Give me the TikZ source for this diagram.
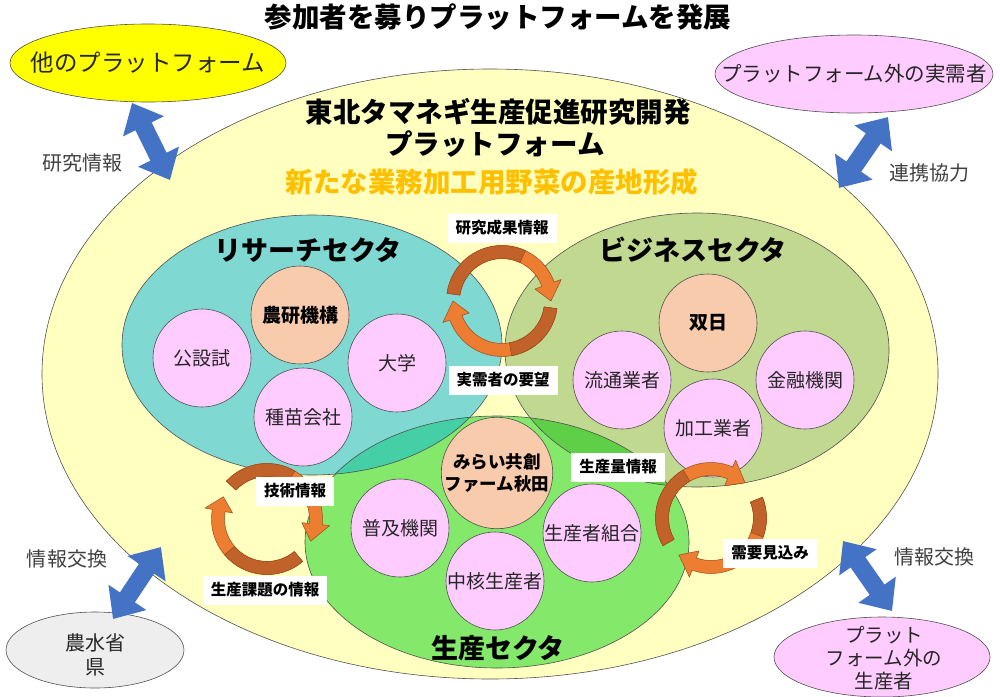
\documentclass[tikz,border=0pt]{standalone}
\usepackage{fontspec}
\setmainfont{Noto Sans CJK JP}
\usetikzlibrary{shapes.geometric,arrows.meta}
\definecolor{platY}{HTML}{FFFFC0}
\definecolor{resC}{HTML}{80D8D2}
\definecolor{busC}{HTML}{C0D890}
\definecolor{proC}{HTML}{84E86A}
\definecolor{ovRP}{HTML}{44CFA6}
\definecolor{ovBP}{HTML}{5FCF48}
\definecolor{pinkC}{HTML}{FFCCFF}
\definecolor{peachC}{HTML}{F8CBAD}
\definecolor{yelC}{HTML}{FFFF00}
\definecolor{grayC}{HTML}{EEEEEE}
\definecolor{orTxt}{HTML}{FFC000}
\definecolor{blueC}{HTML}{4472C4}
\definecolor{orL}{HTML}{ED7D31}
\definecolor{orD}{HTML}{C0622A}
\definecolor{orLine}{HTML}{9E4A1A}
\definecolor{edgeC}{HTML}{505050}
\definecolor{txtC}{HTML}{262626}
\definecolor{lblC}{HTML}{404040}

% circular arrow: #1 centre, #2 start angle, #3 end of dark part, #4 head base, #5 tip
\newcommand{\cycarrow}[5]{%
  \begin{scope}[shift={(#1)}]
    \filldraw[fill=orL, draw=orLine, line width=0.5pt, line join=round]
      (#2:55.5) arc[start angle=#2, end angle=#4, radius=55.5]
      -- (#4:63) -- (#5:49) -- (#4:35) -- (#4:42.5)
      arc[start angle=#4, end angle=#2, radius=42.5] -- cycle;
    \filldraw[fill=orD, draw=orLine, line width=0.5pt, line join=round]
      (#2:55.5) arc[start angle=#2, end angle=#3, radius=55.5]
      -- (#3:42.5) arc[start angle=#3, end angle=#2, radius=42.5] -- cycle;
  \end{scope}}

\begin{document}
\begin{tikzpicture}[x=1pt,y=-1pt,
  every node/.style={inner sep=0pt},
  ell/.style={ellipse, draw=edgeC, line width=0.6pt},
  secfill/.style={ellipse, inner sep=0pt},
  outl/.style={draw=edgeC, line width=0.6pt},
  pcirc/.style={circle, draw=edgeC, line width=0.6pt, fill=pinkC, minimum size=98pt,
                text=txtC, align=center, font=\fontsize{19}{22}\selectfont},
  kcirc/.style={pcirc, fill=peachC, text=black, font=\fontsize{19}{22}\selectfont\bfseries},
  sectitle/.style={font=\fontsize{27}{30}\selectfont\bfseries},
  headtxt/.style={font=\fontsize{27.5}{30}\selectfont\bfseries},
  tagbox/.style={fill=white, minimum height=29pt, inner xsep=8pt,
                 font=\fontsize{15.5}{18}\selectfont\bfseries},
  outtxt/.style={text=lblC, font=\fontsize{20}{22}\selectfont},
  parttxt/.style={text=txtC, align=center},
  bluearr/.style={draw=blueC, line width=18pt,
     {Triangle[length=26pt,width=44pt]}-{Triangle[length=26pt,width=44pt]}}
]
\useasboundingbox (0,0) rectangle (1000,696);

% ---- title
\node[headtxt] (title) at (498,17) {参加者を募りプラットフォームを発展};

% ---- platform ellipse
\node[ell, fill=platY, minimum width=896pt, minimum height=610pt] (plat) at (490,374) {};

% ---- sector ellipses (fills)
\node[secfill, fill=resC, minimum width=380pt, minimum height=260pt] (res) at (312,345) {};
\node[secfill, fill=busC, minimum width=384pt, minimum height=274pt] (bus) at (697,350) {};
\node[secfill, fill=proC, minimum width=384pt, minimum height=252pt] (pro) at (497,542) {};
\begin{scope}
  \clip (312,345) ellipse[x radius=190, y radius=130];
  \fill[ovRP] (497,542) ellipse[x radius=192, y radius=126];
\end{scope}
\begin{scope}
  \clip (697,350) ellipse[x radius=192, y radius=137];
  \fill[ovBP] (497,542) ellipse[x radius=192, y radius=126];
\end{scope}
\draw[outl] (res.center) ellipse[x radius=190, y radius=130];
\draw[outl] (bus.center) ellipse[x radius=192, y radius=137];
\draw[outl] (pro.center) ellipse[x radius=192, y radius=126];

% ---- headings
\node[headtxt] (h1) at (498,112) {東北タマネギ生産促進研究開発};
\node[headtxt] (h2) at (495,144) {プラットフォーム};
\node[headtxt, text=orTxt] (h3) at (492,182) {新たな業務加工用野菜の産地形成};

\node[sectitle] (rest) at (308,250) {リサーチセクタ};
\node[sectitle] (bust) at (693,250) {ビジネスセクタ};
\node[sectitle] (prot) at (498,648) {生産セクタ};

% ---- member circles
\node[kcirc] (nkk) at (300,315) {農研機構};
\node[pcirc] (kss) at (202,358) {公設試};
\node[pcirc] (dgk) at (397,363) {大学};
\node[pcirc] (sbk) at (303,417) {種苗会社};

\node[kcirc] (snj) at (708,323) {双日};
\node[pcirc] (rtg) at (622,380) {流通業者};
\node[pcirc] (kyk) at (805,380) {金融機関};
\node[pcirc] (kkg) at (713,428) {加工業者};

\node[kcirc, font=\fontsize{17.5}{22}\selectfont\bfseries] (mrk) at (497,473) {みらい共創\\ファーム秋田};
\node[pcirc] (fkk) at (400,528) {普及機関};
\node[pcirc] (ssk) at (592,533) {生産者組合};
\node[pcirc] (cks) at (495,581) {中核生産者};

% ---- circular arrows
\coordinate (c1) at (502,301);
\coordinate (c2) at (267,519);
\coordinate (c3) at (711,518);
\cycarrow{c1}{-172}{-65}{-20}{0}
\cycarrow{c1}{8}{80}{160}{180}
\cycarrow{c2}{-137}{-60}{6}{27}
\cycarrow{c2}{50}{140}{190}{207}
\cycarrow{c3}{150}{240}{293}{314}
\cycarrow{c3}{-22}{20}{110}{131}

% ---- flow labels
\node[tagbox] (t1) at (502,228) {研究成果情報};
\node[tagbox] (t2) at (503,380) {実需者の要望};
\node[tagbox] (t3) at (295,491) {技術情報};
\node[tagbox] (t4) at (265,590) {生産課題の情報};
\node[tagbox] (t5) at (618,467) {生産量情報};
\node[tagbox] (t6) at (770,553) {需要見込み};

% ---- outside partners
\node[ell, fill=yelC, minimum width=276pt, minimum height=78pt] (oth) at (148,63) {};
\node[parttxt, font=\fontsize{23.5}{26}\selectfont] (othT) at (oth.center) {他のプラットフォーム};
\node[ell, fill=pinkC, minimum width=278pt, minimum height=78pt] (jju) at (854,74) {};
\node[parttxt, font=\fontsize{20.5}{24}\selectfont] (jjuT) at (jju.center) {プラットフォーム外の実需者};
\node[ell, fill=grayC, minimum width=178pt, minimum height=76pt] (maff) at (95,650) {};
\node[parttxt, font=\fontsize{20}{24}\selectfont] (maffT) at (95,655) {農水省\\県};
\node[ell, fill=pinkC, minimum width=216pt, minimum height=80pt] (osp) at (882,657) {};
\node[parttxt, font=\fontsize{19.5}{23}\selectfont] (ospT) at (884,658) {プラット\\フォーム外の\\生産者};

% ---- blue double arrows
\coordinate (a1s) at (132,103); \coordinate (a1e) at (170,180);
\coordinate (a2s) at (888,117); \coordinate (a2e) at (839,188);
\coordinate (a3s) at (161,547); \coordinate (a3e) at (113,619);
\coordinate (a4s) at (843,541); \coordinate (a4e) at (892,611);
\draw[bluearr] (a1s) -- (a1e);
\draw[bluearr] (a2s) -- (a2e);
\draw[bluearr] (a3s) -- (a3e);
\draw[bluearr] (a4s) -- (a4e);

\node[outtxt] (l1) at (82,163) {研究情報};
\node[outtxt] (l2) at (929,173) {連携協力};
\node[outtxt] (l3) at (67,559) {情報交換};
\node[outtxt] (l4) at (934,557) {情報交換};
\end{tikzpicture}
\end{document}
